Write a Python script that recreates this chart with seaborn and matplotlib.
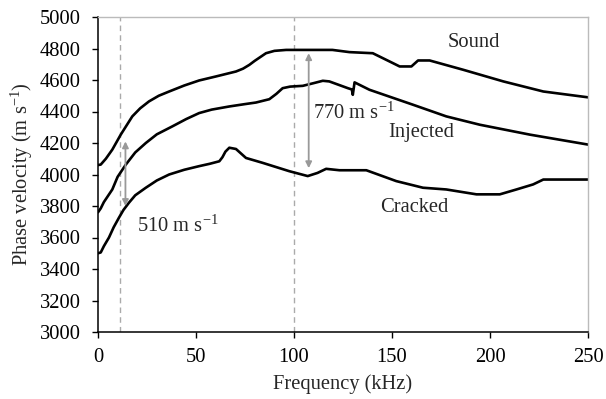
import matplotlib
matplotlib.use("Agg")
import matplotlib.pyplot as plt
import seaborn as sns
import pandas as pd

sound_x = [0, 1.4, 4, 7.3, 11.6, 17.5, 21.5, 26, 31, 36.3, 44, 51.6, 60, 70.4, 74, 77.2, 80, 85.7, 90, 96, 119.6, 128.3, 140.2, 150.5, 153.9, 159.9, 163.3, 169.2, 186.3, 206.8, 227.2, 250]
sound_y = [4060, 4063, 4100, 4158, 4253, 4369, 4420, 4464, 4500, 4527, 4565, 4597, 4622, 4654, 4672, 4696, 4722, 4770, 4785, 4791, 4791, 4777, 4770, 4707, 4686, 4686, 4724, 4724, 4665, 4591, 4527, 4490]

injected_x = [0, 1.4, 3, 7.3, 10, 14.2, 19, 24.4, 30, 38, 45, 51.6, 58, 67, 75, 80.6, 87.4, 91, 94.2, 98, 104.5, 110, 114.7, 118, 127.5, 129.5, 130, 130.9, 138.5, 160.7, 177.7, 194.8, 220.4, 250]
injected_y = [3760, 3785, 3825, 3905, 3985, 4063, 4140, 4200, 4255, 4306, 4352, 4390, 4412, 4432, 4447, 4457, 4478, 4512, 4548, 4558, 4563, 4580, 4595, 4591, 4548, 4540, 4506, 4585, 4538, 4443, 4369, 4316, 4253, 4190]

cracked_x = [0, 1.4, 3, 5.6, 8, 10.7, 13, 15.8, 19, 24.4, 30, 36.3, 44, 51.6, 57, 61.9, 63.5, 65, 67, 70.4, 75.5, 84, 97.6, 107, 112, 116.4, 123.2, 136.9, 152.2, 165.8, 177.7, 193.1, 205, 213.5, 222, 227.2, 250]
cracked_y = [3500, 3505, 3545, 3600, 3665, 3726, 3775, 3821, 3868, 3916, 3962, 4000, 4030, 4053, 4068, 4084, 4110, 4145, 4170, 4162, 4105, 4074, 4021, 3990, 4010, 4036, 4027, 4027, 3958, 3916, 3905, 3874, 3874, 3905, 3937, 3968, 3968]

dashed_x = [11, 100]
x_ticks = [0, 50, 100, 150, 200, 250]
y_ticks = list(range(3000, 5001, 200))

frames = []
for name, xs, ys in [("Sound", sound_x, sound_y), ("Injected", injected_x, injected_y), ("Cracked", cracked_x, cracked_y)]:
    frames.append(pd.DataFrame({"freq": xs, "vel": ys, "series": name}))
df = pd.concat(frames, ignore_index=True)

sns.set_theme(style="ticks")
plt.rcParams["font.family"] = ["Liberation Serif", "DejaVu Serif"]
plt.rcParams["mathtext.fontset"] = "custom"
plt.rcParams["mathtext.rm"] = "Liberation Serif"
plt.rcParams["mathtext.it"] = "Liberation Serif:italic"

fig = plt.figure(figsize=(6.06, 3.99), dpi=100)
ax = fig.add_axes([98/606, 1-332/399, 490/606, 315/399])

sns.lineplot(data=df, x="freq", y="vel", units="series", estimator=None,
             color="black", lw=1.9, ax=ax, sort=False, legend=False)

for xv in dashed_x:
    ax.axvline(xv, color="#aaaaaa", lw=1, ls=(0, (4, 3)), zorder=0)

arrow = dict(arrowstyle="<|-|>", color="#999999", lw=1.3, mutation_scale=9, shrinkA=0, shrinkB=0)
ax.annotate("", xy=(14, 3800), xytext=(14, 4210), arrowprops=arrow)
ax.annotate("", xy=(107.5, 4040), xytext=(107.5, 4770), arrowprops=arrow)

fs = 14.8
ax.text(20, 3673, r"510 m s$^{-1}$", fontsize=fs, va="center", ha="left")
ax.text(109.5, 4392, r"770 m s$^{-1}$", fontsize=fs, va="center", ha="left")
ax.text(191.5, 4835, "Sound", fontsize=fs, va="center", ha="center")
ax.text(165, 4266, "Injected", fontsize=fs, va="center", ha="center")
ax.text(161.5, 3791, "Cracked", fontsize=fs, va="center", ha="center")

ax.set_xlim(0, 250)
ax.set_ylim(3000, 5000)
ax.set_xticks(x_ticks)
ax.set_yticks(y_ticks)
ax.tick_params(direction="out", length=4.5, width=1, labelsize=fs, colors="black")
ax.tick_params(axis="x", pad=7)
ax.tick_params(axis="y", pad=8)
ax.set_xlabel("Frequency (kHz)", fontsize=fs, labelpad=5)
ax.set_ylabel(r"Phase velocity (m s$^{-1}$)", fontsize=fs, labelpad=3)
for s in ["left", "bottom"]:
    ax.spines[s].set_color("black")
    ax.spines[s].set_linewidth(1.1)
for s in ["top", "right"]:
    ax.spines[s].set_color("#bbbbbb")
    ax.spines[s].set_linewidth(1)

fig.savefig("out.png", dpi=100)
